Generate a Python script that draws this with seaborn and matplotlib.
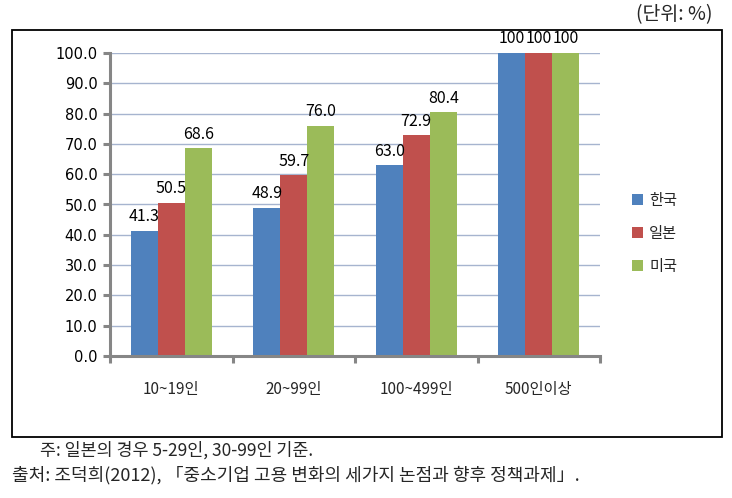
import matplotlib
matplotlib.use("Agg")
import matplotlib.pyplot as plt
import seaborn as sns
import pandas as pd
from matplotlib.patches import Rectangle

categories = ["10~19인", "20~99인", "100~499인", "500인이상"]
series = ["한국", "일본", "미국"]
korea = [41.3, 48.9, 63.0, 100]
japan = [50.5, 59.7, 72.9, 100]
usa = [68.6, 76.0, 80.4, 100]
colors = ["#4F81BD", "#C0504D", "#9BBB59"]
yticks = [0, 10, 20, 30, 40, 50, 60, 70, 80, 90, 100]

rows = []
for s, vals in zip(series, [korea, japan, usa]):
    for c, v in zip(categories, vals):
        rows.append({"cat": c, "series": s, "value": v})
df = pd.DataFrame(rows)

sns.set_theme(style="white")
plt.rcParams['font.family'] = ['Noto Sans CJK KR', 'DejaVu Sans']

fig = plt.figure(figsize=(7.32, 4.98), dpi=100)
ax = fig.add_axes([110/732, 1-356/498, 490/732, 303/498])

sns.barplot(data=df, x="cat", y="value", hue="series", palette=colors,
            order=categories, hue_order=series, width=0.66, ax=ax,
            saturation=1, legend=True, errorbar=None, linewidth=0)

ax.set_ylim(0, 100)
ax.set_xlim(-0.5, 3.5)
ax.set_yticks(yticks)
ax.set_yticklabels([f"{t:.1f}" for t in yticks], fontsize=10.5, color="#000000",
                   family=["DejaVu Sans"])
ax.set_xlabel("")
ax.set_ylabel("")
ax.yaxis.grid(True, color="#A6B4CF", linewidth=1)
ax.set_axisbelow(True)
ax.xaxis.grid(False)

for sp in ["top", "right"]:
    ax.spines[sp].set_visible(False)
for sp in ["left", "bottom"]:
    ax.spines[sp].set_color("#868686")
    ax.spines[sp].set_linewidth(2.2)

ax.tick_params(axis="y", which="major", left=True, length=5, width=2.2, color="#868686", pad=4)
ax.set_xticks([0, 1, 2, 3])
ax.set_xticklabels(categories, fontsize=11)
ax.tick_params(axis="x", which="major", bottom=False, pad=12)
ax.set_xticks([-0.5, 0.5, 1.5, 2.5, 3.5], minor=True)
ax.tick_params(axis="x", which="minor", bottom=True, length=5, width=2.2, color="#868686")

for cont, vals in zip(ax.containers, [korea, japan, usa]):
    labels = ["100" if v == 100 else f"{v:.1f}" for v in vals]
    ax.bar_label(cont, labels=labels, padding=4, fontsize=11.5, color="#000000")

leg = ax.legend(loc="upper left", bbox_to_anchor=(618/732, 1-178/498),
                bbox_transform=fig.transFigure, frameon=False, fontsize=11,
                handlelength=0.75, handleheight=0.75, labelspacing=1.05,
                handletextpad=0.4)

fig.patches.append(Rectangle((12/732, 1-437/498), 710/732, 407/498,
                             transform=fig.transFigure, fill=False,
                             edgecolor="#000000", linewidth=1.3))

fig.text(712/732, 1-15/498, "(단위: %)", ha="right", va="center", fontsize=14)
fig.text(40/732, 1-450/498, "주: 일본의 경우 5-29인, 30-99인 기준.", ha="left", va="center", fontsize=12.5)
fig.text(12/732, 1-475/498, "출처: 조덕희(2012), 「중소기업 고용 변화의 세가지 논점과 향후 정책과제」.",
         ha="left", va="center", fontsize=13)

fig.savefig("out.png", dpi=100)
